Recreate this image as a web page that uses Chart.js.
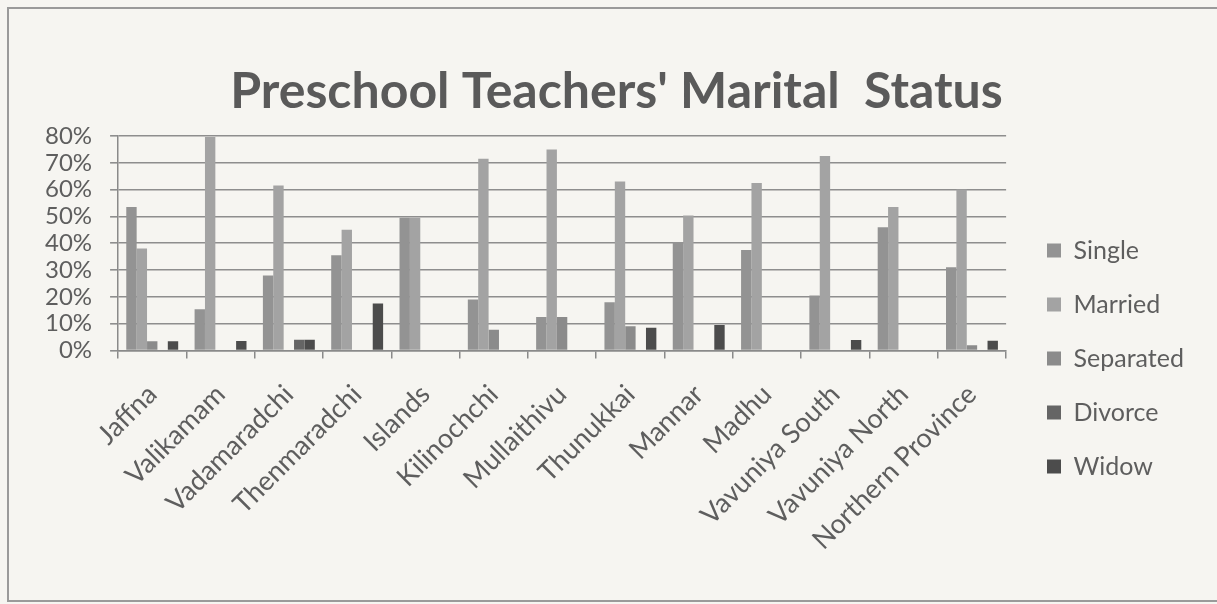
<!DOCTYPE html>
<html>
<head>
<meta charset="utf-8">
<script src="https://cdn.jsdelivr.net/npm/chart.js@4"></script>
<style>
  html, body { margin: 0; padding: 0; background: #f6f5f1; }
  #marco {
    position: absolute; left: 7px; top: 7px; width: 1212px; height: 595px;
    border: 2px solid #9a9a9a; border-right: none; box-sizing: border-box;
  }
  #grafico { position: absolute; left: 0; top: 0; }
</style>
</head>
<body>
<div id="marco"></div>
<canvas id="grafico" width="1217" height="604"></canvas>
<script>
// Datos (porcentajes)
const zonas = ['Jaffna', 'Valikamam', 'Vadamaradchi', 'Thenmaradchi', 'Islands', 'Kilinochchi',
  'Mullaithivu', 'Thunukkai', 'Mannar', 'Madhu', 'Vavuniya South', 'Vavuniya North', 'Northern Province'];
const soltera  = [53.5, 15.4, 28, 35.5, 49.5, 19, 12.5, 18, 40.5, 37.5, 20.5, 46, 31];
const casada   = [38, 79.6, 61.5, 45, 49.5, 71.5, 75, 63, 50.3, 62.5, 72.5, 53.5, 60];
const separada = [3.4, 0, 0, 0, 0, 7.7, 12.5, 9, 0, 0, 0, 0, 1.9];
const divorcio = [0, 0, 4, 0, 0, 0, 0, 0, 0, 0, 0, 0, 0];
const viuda    = [3.4, 3.5, 4, 17.5, 0, 0, 0, 8.5, 9.5, 0, 3.9, 0, 3.6];
const marcasY  = [0, 10, 20, 30, 40, 50, 60, 70, 80];

const fuente = 'Lato, "Open Sans", sans-serif';
const grisTexto = '#5e5e5e';

// Coloca la leyenda y el título donde están en el original
const ajustarCajas = {
    id: 'ajustarCajas',
    afterLayout(chart) {
        const lg = chart.legend;
        const ancho = lg.right - lg.left;
        lg.left = 1018;
        lg.right = lg.left + ancho;
        lg.top = 209;
        lg.bottom = 604;
        chart.titleBlock.left += 12;
        chart.titleBlock.right += 12;
    }
};

const grafico = new Chart(document.getElementById('grafico'), {
    type: 'bar',
    data: {
        labels: zonas,
        datasets: [
            { label: 'Single', data: soltera, backgroundColor: '#939393' },
            { label: 'Married', data: casada, backgroundColor: '#a3a3a3' },
            { label: 'Separated', data: separada, backgroundColor: '#8b8b8b' },
            { label: 'Divorce', data: divorcio, backgroundColor: '#656565' },
            { label: 'Widow', data: viuda, backgroundColor: '#4c4c4c' }
        ]
    },
    options: {
        responsive: false,
        animation: false,
        categoryPercentage: 0.76,
        barPercentage: 1.0,
        layout: { padding: { left: 27, right: 35, top: 0, bottom: 28 } },
        plugins: {
            title: {
                display: true,
                text: "Preschool Teachers' Marital  Status",
                color: '#5a5a5a',
                font: { family: fuente, size: 50, weight: 'bold' },
                padding: { top: 62, bottom: 14 }
            },
            legend: {
                position: 'right',
                align: 'start',
                labels: {
                    color: grisTexto,
                    font: { family: fuente, size: 25 },
                    boxWidth: 14,
                    boxHeight: 14,
                    padding: 29
                }
            },
            tooltip: { enabled: false }
        },
        scales: {
            x: {
                grid: { display: true, drawOnChartArea: false, offset: true, color: '#8a8a8a', lineWidth: 1.5, tickLength: 8 },
                border: { color: '#8a8a8a', width: 1.5 },
                ticks: {
                    color: grisTexto,
                    font: { family: fuente, size: 27 },
                    minRotation: 45,
                    maxRotation: 45,
                    padding: 20,
                    autoSkip: false
                }
            },
            y: {
                min: 0,
                max: 80,
                afterBuildTicks: (eje) => { eje.ticks = marcasY.map(v => ({ value: v })); },
                grid: { color: '#8e8e8e', lineWidth: 1.6, tickLength: 8 },
                border: { color: '#8a8a8a', width: 1.5 },
                ticks: {
                    color: grisTexto,
                    font: { family: fuente, size: 24 },
                    padding: 18,
                    autoSkip: false,
                    callback: (v) => v + '%'
                }
            }
        }
    },
    plugins: [ajustarCajas]
});
</script>
</body>
</html>
